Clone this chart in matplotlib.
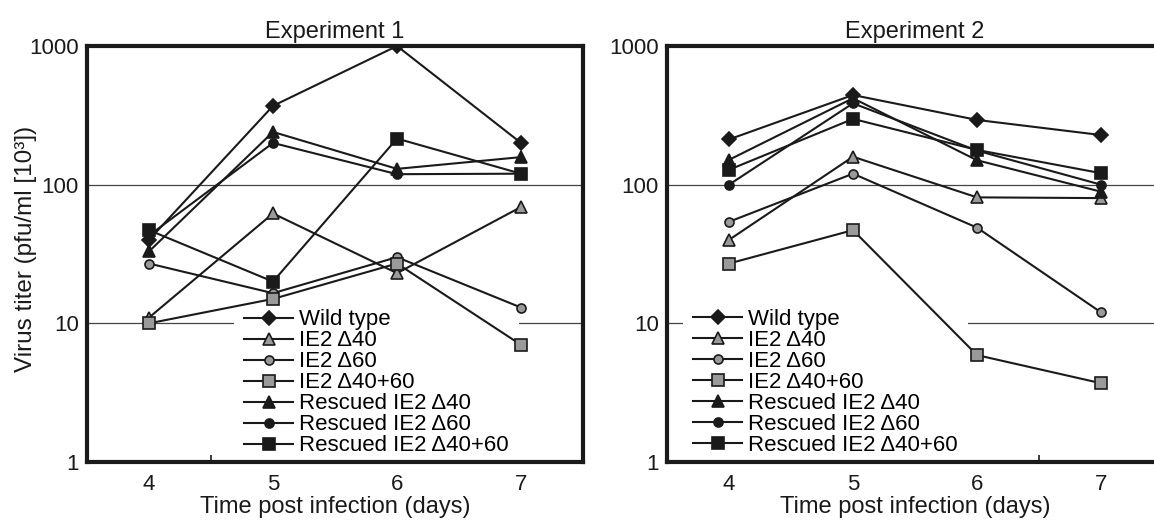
import numpy as np
import matplotlib
matplotlib.use("Agg")
import matplotlib.pyplot as plt
from matplotlib.ticker import FixedLocator, NullFormatter

plt.rcParams['font.family'] = ['Liberation Sans', 'DejaVu Sans']
plt.rcParams['font.size'] = 16

days = [4, 5, 6, 7]
labels = ["Wild type", "IE2 \u039440", "IE2 \u039460", "IE2 \u039440+60",
          "Rescued IE2 \u039440", "Rescued IE2 \u039460", "Rescued IE2 \u039440+60"]

# Experiment 1 (pfu/ml x 10^3)
wild_1 = [40, 370, 1000, 200]
d40_1 = [11, 62, 23, 69]
d60_1 = [27, 16.5, 30, 13]
d4060_1 = [10, 15, 27, 7]
res40_1 = [33, 240, 130, 158]
res60_1 = [43, 200, 119, 120]
res4060_1 = [47, 20, 215, 120]

# Experiment 2
wild_2 = [212, 443, 293, 228]
d40_2 = [40, 159, 81, 80]
d60_2 = [54, 120, 49, 12]
d4060_2 = [27, 47, 5.9, 3.7]
res40_2 = [151, 420, 150, 89]
res60_2 = [100, 386, 176, 100]
res4060_2 = [128, 298, 178, 121]

INK = '#1a1a1a'
GRAY = '#9a9a9a'
styles = [
    dict(marker='D', ms=7, mfc=INK),
    dict(marker='^', ms=9, mfc=GRAY),
    dict(marker='o', ms=6.5, mfc=GRAY),
    dict(marker='s', ms=8, mfc=GRAY),
    dict(marker='^', ms=9, mfc=INK),
    dict(marker='o', ms=6.5, mfc=INK),
    dict(marker='s', ms=8.5, mfc=INK),
]

fig = plt.figure(figsize=(11.54, 5.21), dpi=100)
W, H = 1154.0, 521.0
ax1 = fig.add_axes([87 / W, 59 / H, 496 / W, 416 / H])
ax2 = fig.add_axes([667 / W, 59 / H, 496 / W, 416 / H])


def draw_panel(ax, series, title, leg_x, leg_y, ylabel=None):
    for vals, lab, st in zip(series, labels, styles):
        ax.plot(days, vals, color=INK, lw=1.5, mec=INK, mew=1.2,
                label=lab, zorder=3, **st)
    ax.set_yscale('log')
    ax.set_ylim(1, 1000)
    ax.set_xlim(3.5, 7.5)
    ax.set_yticks([1, 10, 100, 1000])
    ax.set_yticklabels(['1', '10', '100', '1000'])
    ax.yaxis.set_minor_locator(FixedLocator([]))
    ax.yaxis.set_minor_formatter(NullFormatter())
    ax.set_xticks(days)
    ax.xaxis.set_minor_locator(FixedLocator([4.5, 5.5, 6.5]))
    ax.tick_params(axis='y', which='major', length=0, pad=6, colors=INK, labelsize=16)
    ax.tick_params(axis='x', which='major', length=0, pad=9, colors=INK, labelsize=16)
    ax.tick_params(axis='x', which='minor', direction='in', length=5, width=1.2, color=INK)
    ax.set_axisbelow(True)
    ax.yaxis.grid(True, which='major', color='#444444', lw=0.9)
    for sp in ax.spines.values():
        sp.set_linewidth(3)
        sp.set_color(INK)
    ax.set_title(title, pad=6, color=INK, fontsize=17)
    ax.set_xlabel("Time post infection (days)", labelpad=0, color=INK, fontsize=17)
    if ylabel:
        ax.set_ylabel(ylabel, color=INK, fontsize=17.5)
        ax.yaxis.set_label_coords(-0.101, 0.513)
    leg = ax.legend(loc='upper left', bbox_to_anchor=(leg_x, leg_y), borderaxespad=0,
                    frameon=True, fancybox=False, facecolor='white', edgecolor='none',
                    framealpha=1, borderpad=0.47, labelspacing=0.0,
                    handlelength=2.2, handletextpad=0.27, fontsize=16)
    leg.set_zorder(1.5)


draw_panel(ax1, [wild_1, d40_1, d60_1, d4060_1, res40_1, res60_1, res4060_1],
           "Experiment 1", 0.2956, 0.392, ylabel="Virus titer (pfu/ml [10\u00b3])")
draw_panel(ax2, [wild_2, d40_2, d60_2, d4060_2, res40_2, res60_2, res4060_2],
           "Experiment 2", 0.0315, 0.394)

fig.savefig("out.png", dpi=100)
